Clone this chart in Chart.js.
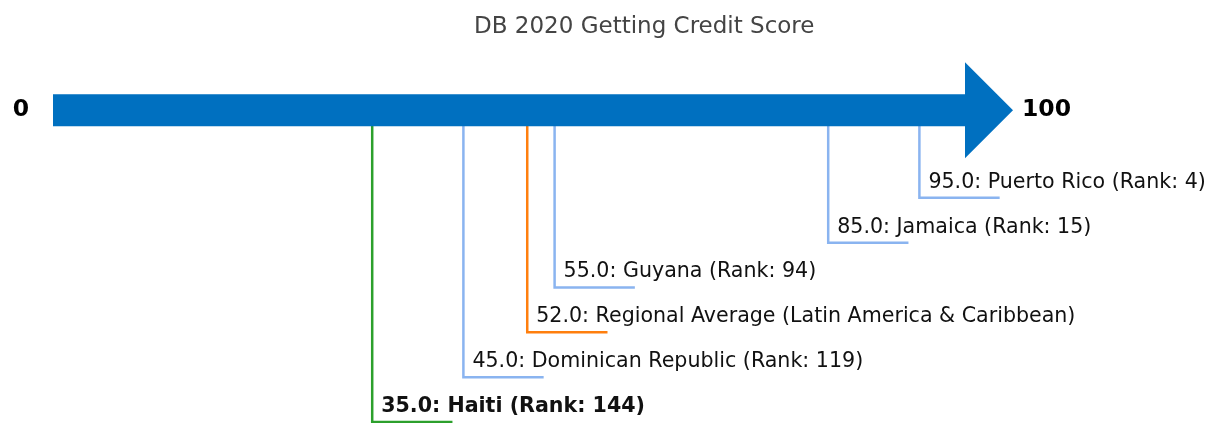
<!DOCTYPE html>
<html lang="en">
<head>
<meta charset="UTF-8" />
<title>DB 2020 Getting Credit Score</title>
<style>
  html, body { margin: 0; padding: 0; background: #fff; }
  #wrap { width: 1211px; height: 423px; }
</style>
</head>
<body>
<div id="wrap"><canvas id="creditChart"></canvas></div>

<script src="https://cdn.jsdelivr.net/npm/chart.js"></script>
<script>
  // data
  const economies = ['Haiti', 'Dominican Republic', 'Regional Average (Latin America & Caribbean)', 'Guyana', 'Jamaica', 'Puerto Rico'];
  const scores = [35, 45, 52, 55, 85, 95];
  const ranks = [144, 119, null, 94, 15, 4];
  const levels = [6, 5, 4, 3, 2, 1];   // label row under the arrow
  const endLabels = ['0', '100'];
  const titleText = 'DB 2020 Getting Credit Score';

  // styles
  const FONT = "'DejaVu Sans', 'Liberation Sans', sans-serif";
  const ARROW_COLOR = '#0070c0';
  const FOCUS_COLOR = '#2ca02c';
  const AVG_COLOR = '#ff7f0e';
  const PEER_COLOR = '#8ab4f0';
  const ARROW_Y = -0.955;
  const LEADER_LEN = 8.8;   // in score units

  function colorFor(i) {
    if (economies[i] === 'Haiti') return FOCUS_COLOR;
    if (ranks[i] === null) return AVG_COLOR;
    return PEER_COLOR;
  }

  function labelFor(i) {
    const v = scores[i].toFixed(1);
    if (ranks[i] === null) return `${v}: ${economies[i]}`;
    return `${v}: ${economies[i]} (Rank: ${ranks[i]})`;
  }

  const datasets = economies.map((name, i) => ({
    label: name,
    data: [
      { x: scores[i], y: ARROW_Y },
      { x: scores[i], y: levels[i] },
      { x: scores[i] + LEADER_LEN, y: levels[i] }
    ],
    borderColor: colorFor(i),
    borderWidth: 2.5,
    pointRadius: 0,
    fill: false,
    tension: 0,
    clip: false
  }));

  const arrowPlugin = {
    id: 'arrowPlugin',
    afterDatasetsDraw(chart) {
      const { ctx, scales: { x, y } } = chart;
      const x0 = x.getPixelForValue(0);
      const x1 = x.getPixelForValue(100);
      const yc = y.getPixelForValue(ARROW_Y);
      const shaft = 16, head = 48, headLen = 48;

      ctx.save();
      ctx.fillStyle = ARROW_COLOR;
      ctx.beginPath();
      ctx.moveTo(x0, yc - shaft);
      ctx.lineTo(x1, yc - shaft);
      ctx.lineTo(x1, yc - head);
      ctx.lineTo(x1 + headLen, yc);
      ctx.lineTo(x1, yc + head);
      ctx.lineTo(x1, yc + shaft);
      ctx.lineTo(x0, yc + shaft);
      ctx.closePath();
      ctx.fill();

      // title, centred over the whole figure content
      ctx.fillStyle = '#444';
      ctx.font = `23px ${FONT}`;
      ctx.textAlign = 'center';
      ctx.textBaseline = 'middle';
      ctx.fillText(titleText, chart.width * 0.532, 27);

      // end labels
      ctx.fillStyle = '#000';
      ctx.font = `bold 23.5px ${FONT}`;
      ctx.fillText(endLabels[0], x0 - 32, yc);
      ctx.textAlign = 'left';
      ctx.fillText(endLabels[1], x1 + headLen + 9, yc);

      // economy labels
      ctx.textBaseline = 'alphabetic';
      economies.forEach((name, i) => {
        const px = x.getPixelForValue(scores[i]);
        const py = y.getPixelForValue(levels[i]);
        ctx.font = (name === 'Haiti' ? 'bold ' : '') + `20.6px ${FONT}`;
        ctx.fillStyle = '#111';
        ctx.fillText(labelFor(i), px + 9, py - 10);
      });
      ctx.restore();
    }
  };

  new Chart(document.getElementById('creditChart'), {
    type: 'line',
    data: { datasets },
    options: {
      responsive: true,
      maintainAspectRatio: false,
      animation: false,
      layout: { padding: { left: 53, right: 246, top: 63.3, bottom: 1 } },
      scales: {
        x: { type: 'linear', min: 0, max: 100, display: false },
        y: { type: 'linear', min: -2, max: 6, reverse: true, display: false }
      },
      plugins: {
        legend: { display: false },
        tooltip: { enabled: false },
        title: { display: false }
      }
    },
    plugins: [arrowPlugin]
  });
</script>
</body>
</html>
